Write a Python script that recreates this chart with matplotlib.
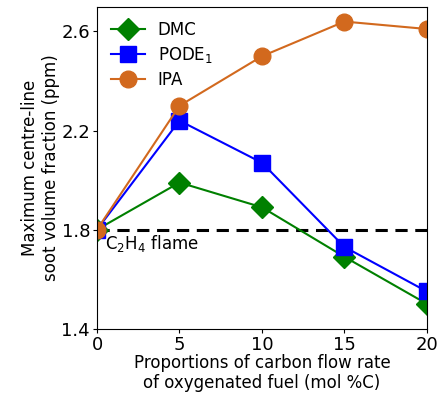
import numpy as np
import matplotlib
matplotlib.use('Agg')
import matplotlib.pyplot as plt

x = [0, 5, 10, 15, 20]
dmc = [1.80, 1.99, 1.89, 1.69, 1.50]
pode = [1.80, 2.24, 2.07, 1.73, 1.55]
ipa = [1.80, 2.30, 2.50, 2.64, 2.61]
base = 1.8

plt.rcParams['font.size'] = 13

fig = plt.figure(figsize=(4.41, 3.95), dpi=100)
ax = fig.add_axes([0.22, 0.168, 0.748, 0.815])

ax.axhline(base, color='black', ls='--', lw=2.2, dashes=(4, 2.5))
ax.plot(x, dmc, color='green', marker='D', ms=11, lw=1.5, label='DMC')
ax.plot(x, pode, color='blue', marker='s', ms=11, lw=1.5, label='PODE$_1$')
ax.plot(x, ipa, color='#d2691e', marker='o', ms=12, lw=1.5, label='IPA')

ax.text(0.5, 1.745, 'C$_2$H$_4$ flame', fontsize=12, va='center')

ax.set_xlim(0, 20)
ax.set_ylim(1.4, 2.7)
ax.set_xticks([0, 5, 10, 15, 20])
ax.set_yticks([1.4, 1.8, 2.2, 2.6])
ax.tick_params(length=3, pad=2)
ax.set_xlabel('Proportions of carbon flow rate\nof oxygenated fuel (mol %C)', fontsize=12, labelpad=0)
ax.set_ylabel('Maximum centre-line\nsoot volume fraction (ppm)', fontsize=12, labelpad=1)
ax.legend(loc='upper left', frameon=False, fontsize=12, handlelength=2.0,
          labelspacing=0.35, borderaxespad=0.45)

fig.savefig('out.png', dpi=100)
